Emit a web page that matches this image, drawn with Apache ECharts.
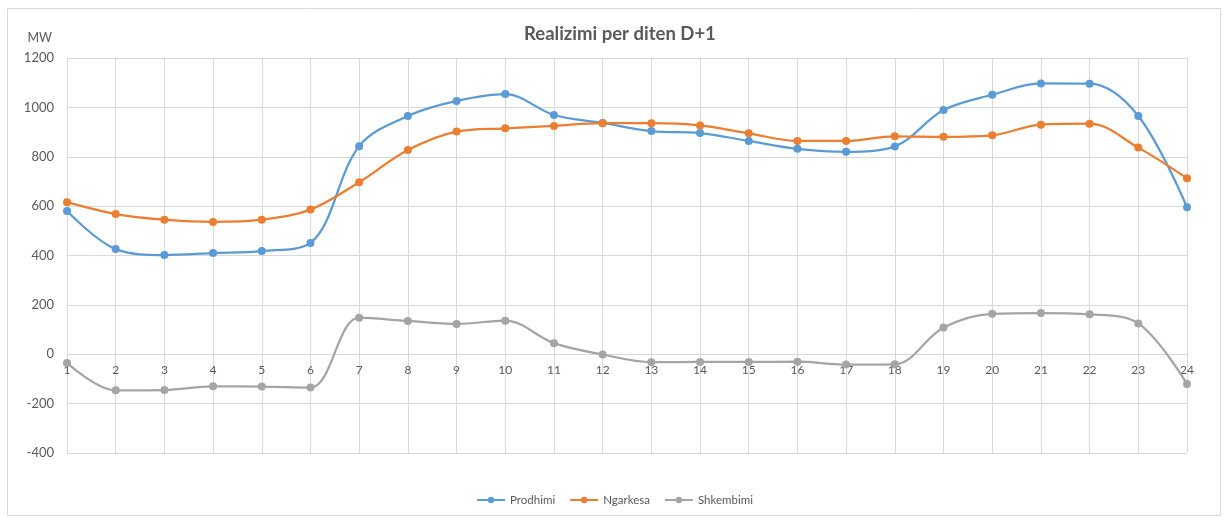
<!DOCTYPE html>
<html>
<head>
<meta charset="utf-8">
<script src="https://cdn.jsdelivr.net/npm/echarts@6/dist/echarts.min.js"></script>
<style>
  html, body { margin: 0; padding: 0; background: #fff; }
  #chart { width: 1229px; height: 522px; }
</style>
</head>
<body>
<div id="chart"></div>
<script>
// ore te dites
var hours = ['1', '2', '3', '4', '5', '6', '7', '8', '9', '10', '11', '12',
             '13', '14', '15', '16', '17', '18', '19', '20', '21', '22', '23', '24'];
var prodhimi = [580, 426, 402, 410, 418, 451, 843, 965, 1026, 1054, 969, 937,
                904, 896, 864, 832, 820, 842, 989, 1051, 1097, 1096, 965, 595];
var ngarkesa = [616, 568, 545, 536, 545, 586, 697, 827, 902, 915, 925, 936,
                936, 927, 895, 864, 864, 883, 881, 887, 930, 934, 837, 713];
var shkembimi = [-35, -146, -145, -130, -131, -135, 148, 135, 123, 136, 45, -1,
                 -32, -31, -31, -30, -42, -41, 108, 164, 167, 162, 125, -120];

var myChart = echarts.init(document.getElementById('chart'));
var font = 'Lato, "Open Sans", sans-serif';

function line(name, data, color) {
    return {
        name: name,
        type: 'line',
        data: data,
        smooth: 0.35,
        symbol: 'circle',
        symbolSize: 8,
        lineStyle: { width: 2.25, color: color },
        itemStyle: { color: color }
    };
}

var option = {
    animation: false,
    textStyle: { fontFamily: font },
    graphic: [{
        type: 'rect',
        shape: { x: 7.5, y: 8.5, width: 1213, height: 507 },
        style: { fill: 'none', stroke: '#d9d9d9', lineWidth: 1 },
        silent: true
    }],
    title: {
        text: 'Realizimi per diten D+1',
        left: 519,
        top: 20,
        textStyle: { fontFamily: font, fontSize: 18.5, fontWeight: 'bold', color: '#595959' }
    },
    legend: {
        bottom: 11,
        left: 'center',
        itemWidth: 28,
        itemHeight: 8,
        itemGap: 14,
        textStyle: { fontFamily: font, fontSize: 11.5, color: '#595959' },
        data: ['Prodhimi', 'Ngarkesa', 'Shkembimi']
    },
    grid: { left: 67, right: 42, top: 58, bottom: 69 },
    xAxis: {
        type: 'category',
        data: hours,
        boundaryGap: false,
        offset: -99,
        axisLine: { onZero: false, lineStyle: { color: '#d9d9d9' } },
        axisTick: { show: false },
        axisLabel: { color: '#595959', fontSize: 12, margin: 10 },
        splitLine: { show: true, lineStyle: { color: '#d9d9d9' } }
    },
    yAxis: {
        type: 'value',
        min: -400,
        max: 1200,
        interval: 200,
        name: 'MW',
        nameGap: 14,
        nameTextStyle: { color: '#595959', fontSize: 12.5, align: 'right', padding: [0, 15, 0, 0] },
        axisLine: { show: true, lineStyle: { color: '#d9d9d9' } },
        axisTick: { show: false },
        axisLabel: {
            color: '#595959',
            fontSize: 13,
            margin: 13,
            formatter: function (v) { return String(v); }
        },
        splitLine: { lineStyle: { color: '#d9d9d9' } }
    },
    series: [
        line('Prodhimi', prodhimi, '#5B9BD5'),
        line('Ngarkesa', ngarkesa, '#ED7D31'),
        line('Shkembimi', shkembimi, '#A5A5A5')
    ]
};
myChart.setOption(option);
window.addEventListener('resize', function () {
    myChart.resize();
});
</script>
</body>
</html>
